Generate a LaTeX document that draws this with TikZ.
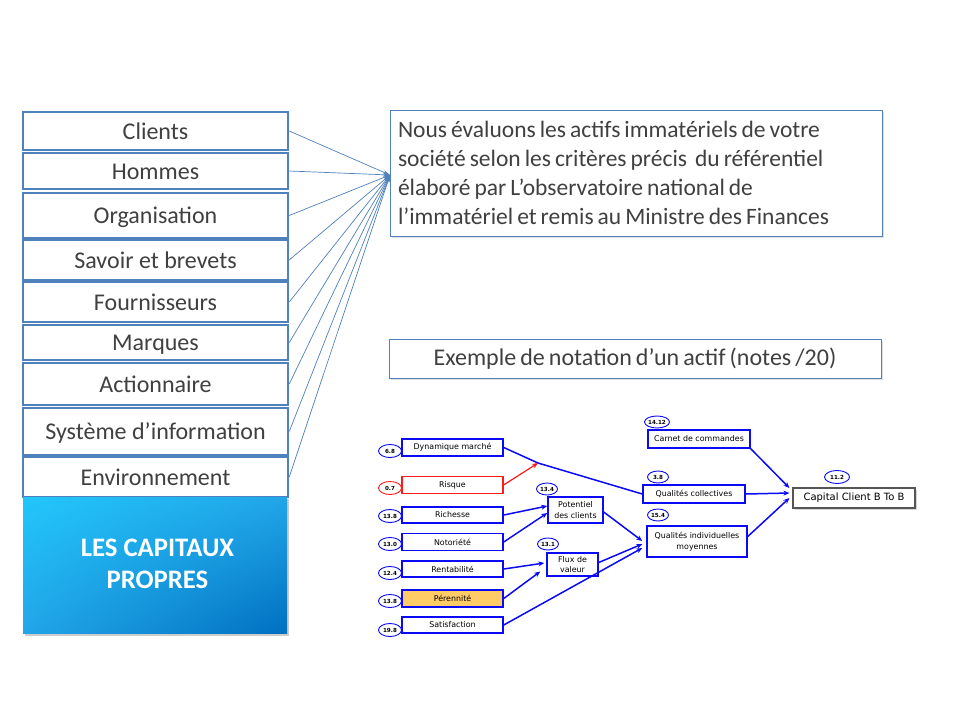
\documentclass[tikz,border=0pt]{standalone}
\usepackage{fontspec}
\setmainfont{Carlito}
\newfontfamily\smallsans{DejaVu Sans}
\usetikzlibrary{arrows.meta,shadows,shapes.geometric,shadings}
\definecolor{lineblue}{HTML}{4F81BD}
\definecolor{txtgray}{HTML}{404040}
\definecolor{dblue}{HTML}{0A0AF5}
\definecolor{orangefill}{HTML}{FFCC66}
\definecolor{gradA}{HTML}{22C6FB}
\definecolor{gradB}{HTML}{0070C0}
\definecolor{gradM}{HTML}{22A6E8}
\definecolor{capgray}{HTML}{555555}
\definecolor{riskred}{HTML}{FF1A1A}
\newcommand{\tightsp}{\spaceskip=0.17em plus 0.05em\relax}
\begin{document}
\begin{tikzpicture}[x=1pt,y=-1pt,
  lbox/.style={draw=lineblue, line width=2.5pt, fill=white, minimum width=265pt, inner sep=0pt, text height=19pt, text depth=3pt, font=\fontsize{24}{28}\selectfont, text=txtgray},
  tbox/.style={draw=lineblue, line width=0.9pt, fill=white, inner sep=0pt, text=txtgray, drop shadow={shadow xshift=1.5pt, shadow yshift=-2pt, opacity=0.25}},
  fan/.style={draw=lineblue, line width=0.7pt, -{Stealth[length=7pt,width=4pt]}},
  sbox/.style={draw=dblue, line width=1.5pt, fill=white, inner sep=0pt, align=center, font=\smallsans\fontsize{7.9}{10.5}\selectfont},
  score/.style={ellipse, draw=dblue, line width=0.9pt, fill=white, inner sep=0pt, minimum width=21pt, minimum height=12pt, font=\smallsans\bfseries\fontsize{5.6}{6}\selectfont},
  darr/.style={draw=dblue, line width=1.5pt, -{Stealth[length=6pt,width=5pt]}},
  dline/.style={draw=dblue, line width=1.5pt}]
\useasboundingbox (0,0) rectangle (960,720);
\fill[white] (0,0) rectangle (960,720);

% left column
\node[lbox, minimum height=38pt] (clients) at (155.5,131) {Clients};
\node[lbox, minimum height=36pt] (hommes) at (155.5,171) {Hommes};
\node[lbox, minimum height=45pt] (orga) at (155.5,215.5) {Organisation};
\node[lbox, minimum height=40pt] (savoir) at (155.5,260) {Savoir et brevets};
\node[lbox, minimum height=40pt] (fourn) at (155.5,302) {Fournisseurs};
\node[lbox, minimum height=35pt] (marques) at (155.5,342.5) {Marques};
\node[lbox, minimum height=42pt] (action) at (155.5,384) {Actionnaire};
\node[lbox, minimum height=47pt] (systeme) at (155.5,431.5) {Système d’information};
\node[lbox, minimum height=40pt] (env) at (155.5,477) {Environnement};

% gradient box
\fill[black, opacity=0.2] (25,499) rectangle (289,636);
\shade[upper left=gradA, lower right=gradB, upper right=gradM, lower left=gradM] (23,497) rectangle (287,633);
\node[text=white, align=center, font=\bfseries\fontsize{26.7}{32}\selectfont] (capitaux) at (157.5,564) {LES CAPITAUX\\PROPRES};

% description box
\node[tbox, minimum width=492pt, minimum height=126pt, text width=476pt, align=left, font=\fontsize{23.5}{29}\selectfont] (desc) at (636,173) {\tightsp Nous évaluons les actifs immatériels de votre\\société selon les critères précis\ \ du référentiel\\élaboré par L’observatoire national de\\l’immatériel et remis au Ministre des Finances};
\coordinate (tip) at (390,175);
\foreach \n in {clients,hommes,orga,savoir,fourn,marques,action,systeme,env}
  \draw[fan] (\n.east) -- (tip);

\node[tbox, minimum width=492pt, minimum height=39pt, font=\fontsize{24}{28}\selectfont] (exemple) at (635,358.5) {\tightsp Exemple de notation d’un actif (notes /20)};

% small diagram: left boxes
\node[sbox, minimum width=101pt, minimum height=17pt] (dyn) at (452.5,447.5) {Dynamique marché};
\node[sbox, draw=riskred, line width=1.2pt, minimum width=101pt, minimum height=17pt] (risque) at (452.5,485) {Risque};
\node[sbox, minimum width=101pt, minimum height=16pt] (richesse) at (452.5,515) {Richesse};
\node[sbox, minimum width=101pt, minimum height=17pt] (noto) at (452.5,542) {Notoriété};
\node[sbox, minimum width=101pt, minimum height=16pt] (renta) at (452.5,569) {Rentabilité};
\node[sbox, fill=orangefill, minimum width=101pt, minimum height=17pt] (peren) at (452.5,598.5) {Pérennité};
\node[sbox, minimum width=101pt, minimum height=16pt] (satis) at (452.5,625) {Satisfaction};

\node[score, minimum width=23pt, minimum height=13pt] (s1) at (390,451) {6.8};
\node[score, draw=riskred, minimum width=23pt, minimum height=13pt] (s2) at (390,488) {0.7};
\node[score, minimum width=23pt, minimum height=13pt] (s3) at (390,516) {13.8};
\node[score, minimum width=23pt, minimum height=13pt] (s4) at (390,544) {13.0};
\node[score, minimum width=23pt, minimum height=13pt] (s5) at (390,573) {12.4};
\node[score, minimum width=23pt, minimum height=13pt] (s6) at (390,601) {13.8};
\node[score, minimum width=23pt, minimum height=13pt] (s7) at (390,630) {19.8};

% middle boxes
\node[sbox, minimum width=55pt, minimum height=26pt] (poten) at (575.5,510) {Potentiel\\des clients};
\node[sbox, minimum width=51pt, minimum height=23pt] (flux) at (572.5,564.5) {Flux de\\valeur};
\node[sbox, minimum width=102pt, minimum height=18pt] (qcoll) at (694,494) {Qualités collectives};
\node[sbox, minimum width=100pt, minimum height=31pt] (qind) at (697,541.5) {Qualités individuelles\\moyennes};
\node[sbox, minimum width=102pt, minimum height=18pt] (carnet) at (699,439) {Carnet de commandes};
\node[draw=capgray, line width=1.2pt, fill=white, inner sep=0pt, minimum width=122pt, minimum height=20pt, font=\smallsans\fontsize{10}{12}\selectfont, drop shadow={shadow xshift=1.5pt, shadow yshift=-1.5pt, opacity=0.3}] (capital) at (854,498) {Capital Client B To B};

\node[score] (s8) at (547,489) {13.4};
\node[score] (s9) at (548,544) {13.1};
\node[score] (s10) at (658,477) {3.8};
\node[score] (s11) at (658,515) {15.4};
\node[score] (s12) at (657,422) {14.12};
\node[score, minimum width=25pt, minimum height=13pt] (s13) at (837,477) {11.2};

% connectors
\coordinate (j) at (538,463);
\draw[dline] (dyn.east) -- (j) -- (qcoll.west);
\draw[darr, draw=riskred, line width=1.2pt] (risque.east) -- (j);
\draw[darr] (richesse.east) -- ([yshift=4pt]poten.west);
\draw[darr] (noto.east) -- ([yshift=-3pt]poten.west);
\draw[darr] (renta.east) -- ([xshift=-2pt,yshift=1.5pt]flux.west);
\draw[darr] (peren.east) -- ([xshift=-6pt,yshift=-7pt]flux.west);
\draw[darr] (satis.east) -- ([xshift=-4pt,yshift=-6.5pt]qind.west);
\draw[darr] ([yshift=2pt]flux.east) -- ([xshift=-4pt,yshift=-2.5pt]qind.west);
\draw[darr] ([yshift=-2pt]poten.east) -- ([xshift=-4pt,yshift=0.5pt]qind.west);
\draw[darr] (carnet.south east) -- ([xshift=-3pt,yshift=10pt]capital.west);
\draw[darr] (qcoll.east) -- ([xshift=-3pt,yshift=5pt]capital.west);
\draw[darr] ([yshift=5pt]qind.east) -- ([xshift=-3pt]capital.west);
\end{tikzpicture}
\end{document}
